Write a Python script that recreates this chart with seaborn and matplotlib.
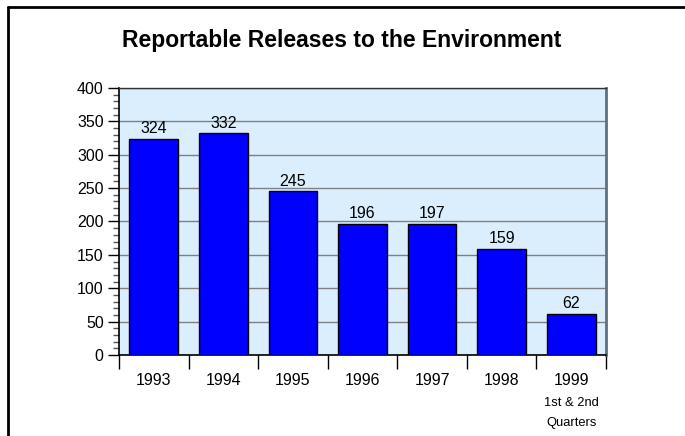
import matplotlib
matplotlib.use("Agg")
import matplotlib.pyplot as plt
from matplotlib.lines import Line2D
from matplotlib.ticker import MultipleLocator, FixedLocator
import seaborn as sns
import pandas as pd

years = ["1993", "1994", "1995", "1996", "1997", "1998", "1999"]
releases = [324, 332, 245, 196, 197, 159, 62]
title = "Reportable Releases to the Environment"
note_1999 = "1st & 2nd\nQuarters"

sns.set_style("white", rc={"text.color": "black", "axes.labelcolor": "black",
                           "xtick.color": "black", "ytick.color": "black"})
plt.rcParams["font.family"] = ["Liberation Sans", "DejaVu Sans"]

df = pd.DataFrame({"year": years, "releases": releases})

W, H = 685, 436
fig = plt.figure(figsize=(W / 100, H / 100), dpi=100)
ax = fig.add_axes([119/W, 1-355/H, (606-119)/W, (355-88)/H])
ax.set_facecolor("#DAEEFE")

sns.barplot(data=df, x="year", y="releases", color="#0000FF", saturation=1,
            width=0.7, edgecolor="black", linewidth=1.0, ax=ax, zorder=3)

ax.set_xlim(-0.5, len(years) - 0.5)
ax.set_ylim(0, 400)
ax.yaxis.set_major_locator(MultipleLocator(50))
ax.yaxis.set_minor_locator(MultipleLocator(10))
ax.grid(axis="y", which="major", color="#808080", linewidth=1.0, zorder=0)
ax.set_axisbelow(True)

# x ticks at category boundaries, labels at centers
ax.xaxis.set_major_locator(FixedLocator([i - 0.5 for i in range(len(years) + 1)]))
ax.xaxis.set_minor_locator(FixedLocator(list(range(len(years)))))
ax.set_xticklabels([""] * (len(years) + 1))
ax.set_xticklabels(years, minor=True)
ax.tick_params(axis="x", which="major", direction="out", length=10, width=1, color="black", bottom=True)
ax.tick_params(axis="x", which="minor", length=0, labelsize=11.5, labelcolor="black", pad=13)
ax.tick_params(axis="y", which="major", direction="out", length=8, width=1, color="black", left=True,
               labelsize=11.5, labelcolor="black", pad=3)
ax.tick_params(axis="y", which="minor", direction="out", length=4, width=1, color="#555555", left=True)

ax.set_xlabel("")
ax.set_ylabel("")

for s in ["left", "bottom"]:
    ax.spines[s].set_color("black")
    ax.spines[s].set_linewidth(1.2)
ax.spines["top"].set_color("#333333")
ax.spines["top"].set_linewidth(1.0)
ax.spines["right"].set_color("#607080")
ax.spines["right"].set_linewidth(2.0)
for s in ax.spines.values():
    s.set_visible(True)

for i, v in enumerate(releases):
    ax.text(i, v + 4, str(v), ha="center", va="bottom", fontsize=11.5, color="black", zorder=5)

fig.text(ax.get_position().x0 + ax.get_position().width * (len(years) - 0.5) / len(years),
         1 - 413/H, note_1999, ha="center", va="center", fontsize=9.3, linespacing=1.9, color="black")

fig.text(342/W, 1-41/H, title, ha="center", va="center", fontsize=16.5, fontweight="bold", color="black")

# outer frame (left and top)
fig.add_artist(Line2D([8/W, 8/W], [0, 1-7/H], transform=fig.transFigure, color="black", linewidth=2))
fig.add_artist(Line2D([8/W, 1], [1-7/H, 1-7/H], transform=fig.transFigure, color="black", linewidth=2))

fig.savefig("out.png", dpi=100, facecolor="white")
